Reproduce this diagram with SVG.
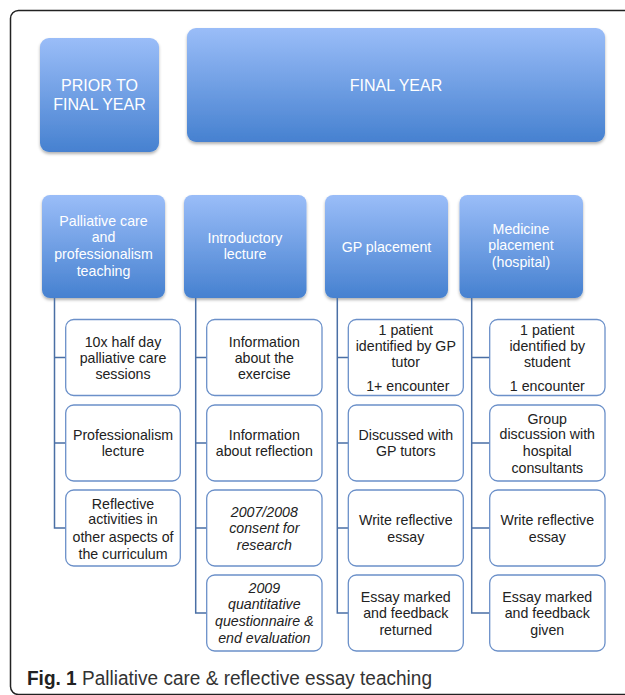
<svg xmlns="http://www.w3.org/2000/svg" width="625" height="695" viewBox="0 0 625 695">
<defs>
<linearGradient id="blue" x1="0" y1="0" x2="0" y2="1">
<stop offset="0" stop-color="#9abdf8"/>
<stop offset="1" stop-color="#4681d0"/>
</linearGradient>
<filter id="sh" x="-10%" y="-10%" width="120%" height="125%">
<feDropShadow dx="0" dy="2" stdDeviation="1.6" flood-color="#000" flood-opacity="0.3"/>
</filter>
<style>
.hd{fill:url(#blue);filter:url(#sh)}
.ch{fill:#fff;stroke:#6b90c9;stroke-width:1.3}
.wt{fill:#fff;font-family:"Liberation Sans",Arial,sans-serif;text-anchor:middle}
.bt{fill:#222;font-family:"Liberation Sans",Arial,sans-serif;font-size:14.2px;text-anchor:middle}
.it{font-style:italic}
.cn{fill:none;stroke:#4a6fa5;stroke-width:1.5}
</style>
</defs>
<rect width="625" height="695" fill="#fff"/>
<rect x="10.5" y="10.5" width="640" height="684" rx="8" fill="none" stroke="#222" stroke-width="1.5"/>

<g id="prior">
<rect class="hd" x="40" y="38" width="119" height="114" rx="9"/>
<text class="wt" font-size="16"><tspan x="99.5" y="91">PRIOR TO</tspan><tspan x="99.5" y="110">FINAL YEAR</tspan></text>
</g>
<g id="final">
<rect class="hd" x="187" y="28" width="418" height="114" rx="9"/>
<text class="wt" font-size="16" x="396" y="91">FINAL YEAR</text>
</g>

<g id="palliative">
<rect class="hd" x="42" y="195" width="123" height="103" rx="8"/>
<text class="wt" font-size="14.2"><tspan x="103.5" y="226">Palliative care</tspan><tspan x="103.5" y="242">and</tspan><tspan x="103.5" y="259">professionalism</tspan><tspan x="103.5" y="276">teaching</tspan></text>
</g>
<g id="intro">
<rect class="hd" x="184" y="195" width="122.5" height="103" rx="8"/>
<text class="wt" font-size="14.2"><tspan x="245" y="243">Introductory</tspan><tspan x="245" y="258.5">lecture</tspan></text>
</g>
<g id="gp">
<rect class="hd" x="325" y="195" width="123" height="103" rx="8"/>
<text class="wt" font-size="14.2" x="386.5" y="252">GP placement</text>
</g>
<g id="medicine">
<rect class="hd" x="459.5" y="195" width="123.5" height="103" rx="8"/>
<text class="wt" font-size="14.2"><tspan x="521" y="234">Medicine</tspan><tspan x="521" y="250">placement</tspan><tspan x="521" y="267">(hospital)</tspan></text>
</g>

<g id="connectors">
<path class="cn" d="M54.5,298 V528 H66 M54.5,357.5 H66 M54.5,443 H66"/>
<path class="cn" d="M195.7,298 V613 H207 M195.7,357.5 H207 M195.7,443 H207 M195.7,528 H207"/>
<path class="cn" d="M337.3,298 V613 H348.5 M337.3,357.5 H348.5 M337.3,443 H348.5 M337.3,528 H348.5"/>
<path class="cn" d="M471.7,298 V613 H490 M471.7,357.5 H490 M471.7,443 H490 M471.7,528 H490"/>
</g>

<g id="c1a"><rect class="ch" x="65.7" y="319.5" width="114.6" height="76" rx="8"/>
<text class="bt"><tspan x="123" y="347">10x half day</tspan><tspan x="123" y="362.5">palliative care</tspan><tspan x="123" y="379">sessions</tspan></text></g>
<g id="c1b"><rect class="ch" x="65.7" y="405" width="114.6" height="76" rx="8"/>
<text class="bt"><tspan x="123" y="440">Professionalism</tspan><tspan x="123" y="456">lecture</tspan></text></g>
<g id="c1c"><rect class="ch" x="65.7" y="490" width="114.6" height="76" rx="8"/>
<text class="bt"><tspan x="123" y="508.5">Reflective</tspan><tspan x="123" y="524">activities in</tspan><tspan x="123" y="541.5">other aspects of</tspan><tspan x="123" y="558.5">the curriculum</tspan></text></g>

<g id="c2a"><rect class="ch" x="206.7" y="319.5" width="115.3" height="76" rx="8"/>
<text class="bt"><tspan x="264.3" y="347">Information</tspan><tspan x="264.3" y="362.5">about the</tspan><tspan x="264.3" y="379">exercise</tspan></text></g>
<g id="c2b"><rect class="ch" x="206.7" y="405" width="115.3" height="76" rx="8"/>
<text class="bt"><tspan x="264.3" y="440">Information</tspan><tspan x="264.3" y="456">about reflection</tspan></text></g>
<g id="c2c"><rect class="ch" x="206.7" y="490" width="115.3" height="76" rx="8"/>
<text class="bt it"><tspan x="264.3" y="516.5">2007/2008</tspan><tspan x="264.3" y="533">consent for</tspan><tspan x="264.3" y="549.5">research</tspan></text></g>
<g id="c2d"><rect class="ch" x="206.7" y="575" width="115.3" height="76" rx="8"/>
<text class="bt it"><tspan x="264.3" y="592.5">2009</tspan><tspan x="264.3" y="609">quantitative</tspan><tspan x="264.3" y="626">questionnaire &amp;</tspan><tspan x="264.3" y="643">end evaluation</tspan></text></g>

<g id="c3a"><rect class="ch" x="348.3" y="319.5" width="115" height="76" rx="8"/>
<text class="bt"><tspan x="405.8" y="335">1 patient</tspan><tspan x="405.8" y="350.5">identified by GP</tspan><tspan x="405.8" y="367">tutor</tspan><tspan x="407.8" y="391">1+ encounter</tspan></text></g>
<g id="c3b"><rect class="ch" x="348.3" y="405" width="115" height="76" rx="8"/>
<text class="bt"><tspan x="405.8" y="440">Discussed with</tspan><tspan x="405.8" y="456">GP tutors</tspan></text></g>
<g id="c3c"><rect class="ch" x="348.3" y="490" width="115" height="76" rx="8"/>
<text class="bt"><tspan x="405.8" y="525">Write reflective</tspan><tspan x="405.8" y="542">essay</tspan></text></g>
<g id="c3d"><rect class="ch" x="348.3" y="575" width="115" height="76" rx="8"/>
<text class="bt"><tspan x="405.8" y="602">Essay marked</tspan><tspan x="405.8" y="617.5">and feedback</tspan><tspan x="405.8" y="634.5">returned</tspan></text></g>

<g id="c4a"><rect class="ch" x="489.7" y="319.5" width="115.3" height="76" rx="8"/>
<text class="bt"><tspan x="547.3" y="335">1 patient</tspan><tspan x="547.3" y="350.5">identified by</tspan><tspan x="547.3" y="367">student</tspan><tspan x="547.3" y="391">1 encounter</tspan></text></g>
<g id="c4b"><rect class="ch" x="489.7" y="405" width="115.3" height="76" rx="8"/>
<text class="bt"><tspan x="547.3" y="423.5">Group</tspan><tspan x="547.3" y="439">discussion with</tspan><tspan x="547.3" y="456">hospital</tspan><tspan x="547.3" y="473">consultants</tspan></text></g>
<g id="c4c"><rect class="ch" x="489.7" y="490" width="115.3" height="76" rx="8"/>
<text class="bt"><tspan x="547.3" y="525">Write reflective</tspan><tspan x="547.3" y="542">essay</tspan></text></g>
<g id="c4d"><rect class="ch" x="489.7" y="575" width="115.3" height="76" rx="8"/>
<text class="bt"><tspan x="547.3" y="602">Essay marked</tspan><tspan x="547.3" y="617.5">and feedback</tspan><tspan x="547.3" y="634.5">given</tspan></text></g>

<text x="27" y="685" font-family="'Liberation Sans',Arial,sans-serif" font-size="20" fill="#333" textLength="405" lengthAdjust="spacingAndGlyphs"><tspan font-weight="bold" fill="#222">Fig. 1</tspan> Palliative care &amp; reflective essay teaching</text>
</svg>
